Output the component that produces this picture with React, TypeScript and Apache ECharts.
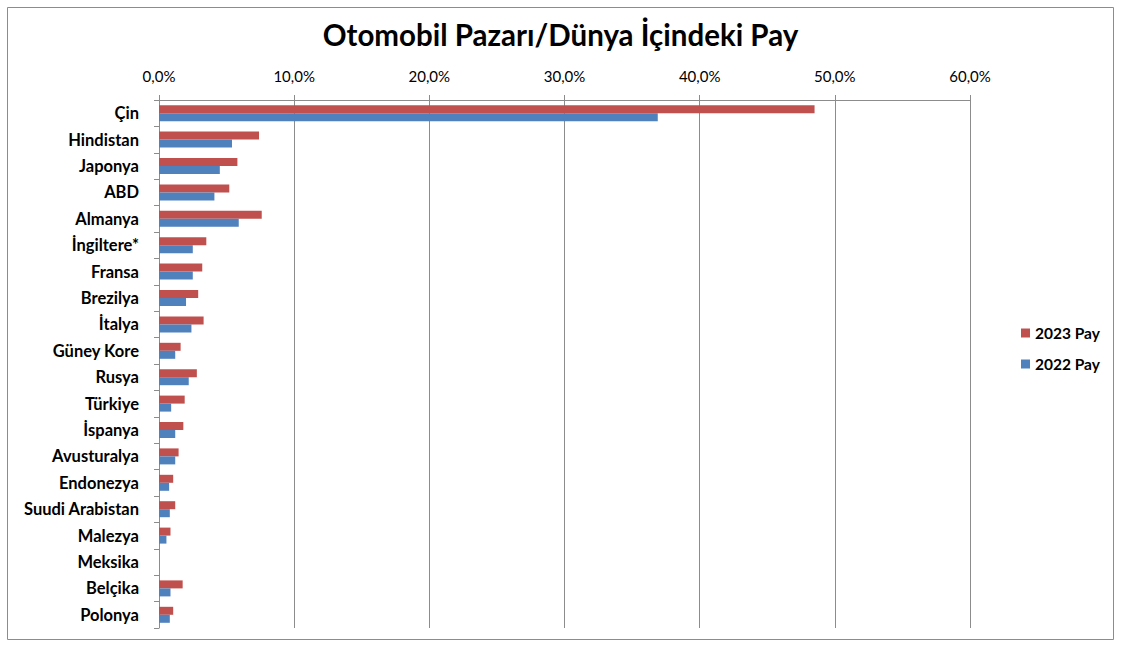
import React, { useEffect, useRef } from "react";
import * as echarts from "echarts";

const categories = [
  "Çin", "Hindistan", "Japonya", "ABD", "Almanya", "İngiltere*", "Fransa", "Brezilya",
  "İtalya", "Güney Kore", "Rusya", "Türkiye", "İspanya", "Avusturalya", "Endonezya",
  "Suudi Arabistan", "Malezya", "Meksika", "Belçika", "Polonya",
];
const pay2023: (number | null)[] = [
  48.5, 7.4, 5.8, 5.2, 7.6, 3.5, 3.2, 2.9, 3.3, 1.6, 2.8, 1.9, 1.8, 1.45, 1.05, 1.2, 0.85, null, 1.75, 1.05,
];
const pay2022: (number | null)[] = [
  36.9, 5.4, 4.5, 4.1, 5.9, 2.5, 2.5, 2.0, 2.4, 1.2, 2.2, 0.9, 1.2, 1.2, 0.75, 0.8, 0.55, null, 0.85, 0.8,
];
const xTicks = { min: 0, max: 60, interval: 10 };

const FONT = "Lato, 'Open Sans', sans-serif";
const GRID_COLOR = "#8c8c8c";

export default function App() {
  const ref = useRef<HTMLDivElement>(null);
  useEffect(() => {
    document.body.style.margin = "0";
    const chart = echarts.init(ref.current!, undefined, { renderer: "svg" });
    chart.setOption({
      animation: false,
      backgroundColor: "#ffffff",
      textStyle: { fontFamily: FONT },
      title: {
        text: "Otomobil Pazarı/Dünya İçindeki Pay",
        left: "center",
        top: 14,
        textStyle: { fontFamily: FONT, fontSize: 29.5, fontWeight: "bold", color: "#000" },
      },
      graphic: [
        {
          type: "rect",
          shape: { x: 7.5, y: 7.5, width: 1106, height: 632 },
          style: { fill: "none", stroke: GRID_COLOR, lineWidth: 1 },
          silent: true,
        },
      ],
      legend: {
        orient: "vertical",
        left: 1016,
        top: 320,
        itemWidth: 9,
        itemHeight: 9,
        itemGap: 15,
        icon: "rect",
        data: ["2023 Pay", "2022 Pay"],
        textStyle: { fontFamily: FONT, fontSize: 15.5, fontWeight: "bold", color: "#000" },
      },
      grid: { left: 159, right: 151, top: 100, bottom: 20, containLabel: false },
      xAxis: {
        type: "value",
        position: "top",
        min: xTicks.min,
        max: xTicks.max,
        interval: xTicks.interval,
        axisLine: { show: true, lineStyle: { color: GRID_COLOR, width: 1 } },
        axisTick: { show: true, length: 5, lineStyle: { color: GRID_COLOR } },
        splitLine: { show: true, lineStyle: { color: GRID_COLOR, width: 1 } },
        axisLabel: {
          margin: 17,
          fontFamily: FONT,
          fontSize: 15,
          color: "#000",
          formatter: (v: number) => v.toFixed(1).replace(".", ",") + "%",
        },
      },
      yAxis: {
        type: "category",
        inverse: true,
        data: categories,
        axisLine: { show: true, lineStyle: { color: GRID_COLOR, width: 1 } },
        axisTick: { show: true, length: 5, lineStyle: { color: GRID_COLOR } },
        axisLabel: {
          margin: 20,
          fontFamily: FONT,
          fontSize: 16.5,
          fontWeight: "bold",
          color: "#000",
        },
      },
      series: [
        {
          name: "2023 Pay",
          type: "bar",
          data: pay2023,
          barWidth: 8,
          barGap: "0%",
          itemStyle: { color: "#C0504D" },
        },
        {
          name: "2022 Pay",
          type: "bar",
          data: pay2022,
          barWidth: 8,
          barGap: "0%",
          itemStyle: { color: "#4F81BD" },
        },
      ],
    });
    return () => chart.dispose();
  }, []);
  return <div ref={ref} style={{ width: 1121, height: 648 }} />;
}
